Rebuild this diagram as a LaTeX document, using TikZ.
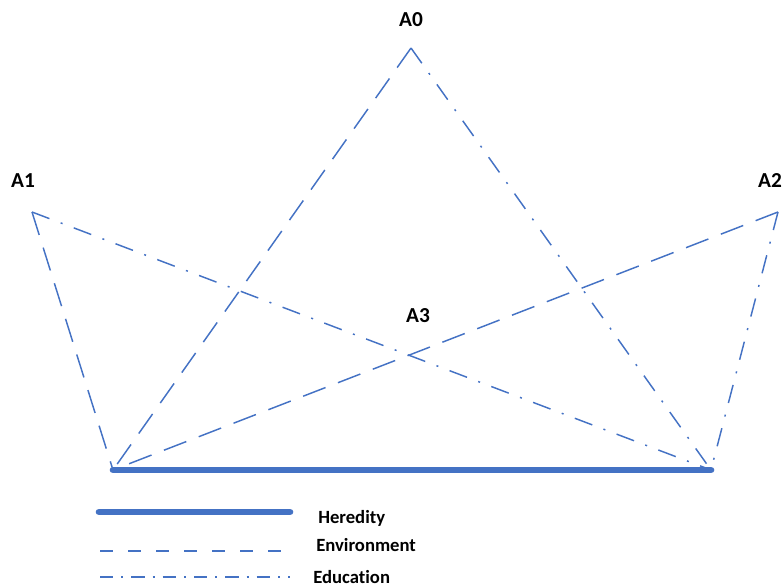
\documentclass[tikz,border=0pt]{standalone}
\usepackage{fontspec}
\setmainfont[Ligatures=NoCommon]{Carlito}
\definecolor{lineblue}{HTML}{4472C4}
\tikzset{
  envline/.style={draw=lineblue, line width=1.1pt, dash pattern=on 18pt off 10pt},
  eduline/.style={draw=lineblue, line width=1.1pt, dash pattern=on 14pt off 9pt on 1.5pt off 9pt},
  herline/.style={draw=lineblue, line width=5pt, line cap=round},
  ptlabel/.style={font=\fontsize{16}{19}\selectfont\bfseries, inner sep=0pt},
  leglabel/.style={font=\fontsize{14}{17}\selectfont\bfseries, inner sep=0pt, anchor=west}
}
\begin{document}
\begin{tikzpicture}[x=0.75pt,y=-0.75pt]
\useasboundingbox (0,0) rectangle (783,585);
\coordinate (A0) at (411,48);
\coordinate (A1) at (32,212);
\coordinate (A2) at (778,212);
\coordinate (LB) at (113,470);
\coordinate (RB) at (711,470);
\node[ptlabel] (lA0) at (411,20) {A0};
\node[ptlabel] (lA1) at (23,181) {A1};
\node[ptlabel] (lA2) at (770,181) {A2};
\node[ptlabel] (lA3) at (418,316) {A3};
\draw[envline] (A0) -- (LB);
\draw[envline] (A1) -- (LB);
\draw[envline] (A2) -- (LB);
\draw[eduline] (A0) -- (RB);
\draw[eduline] (A1) -- (RB);
\draw[eduline] (A2) -- (RB);
\draw[herline] (LB) -- (RB);
% legend
\coordinate (h1) at (99,512); \coordinate (h2) at (290,512);
\coordinate (e1) at (100,551); \coordinate (e2) at (290,551);
\coordinate (d1) at (100,577); \coordinate (d2) at (290,577);
\draw[herline] (h1) -- (h2);
\draw[draw=lineblue, line width=1.1pt, dash pattern=on 10pt off 11pt] (e1) -- (e2);
\draw[draw=lineblue, line width=1.1pt, dash pattern=on 10pt off 6pt on 1.5pt off 6pt] (d1) -- (d2);
\node[leglabel] (tH) at (318,518) {Heredity};
\node[leglabel] (tE) at (316,545) {Environment};
\node[leglabel] (tD) at (313,577) {Education};
\end{tikzpicture}
\end{document}
